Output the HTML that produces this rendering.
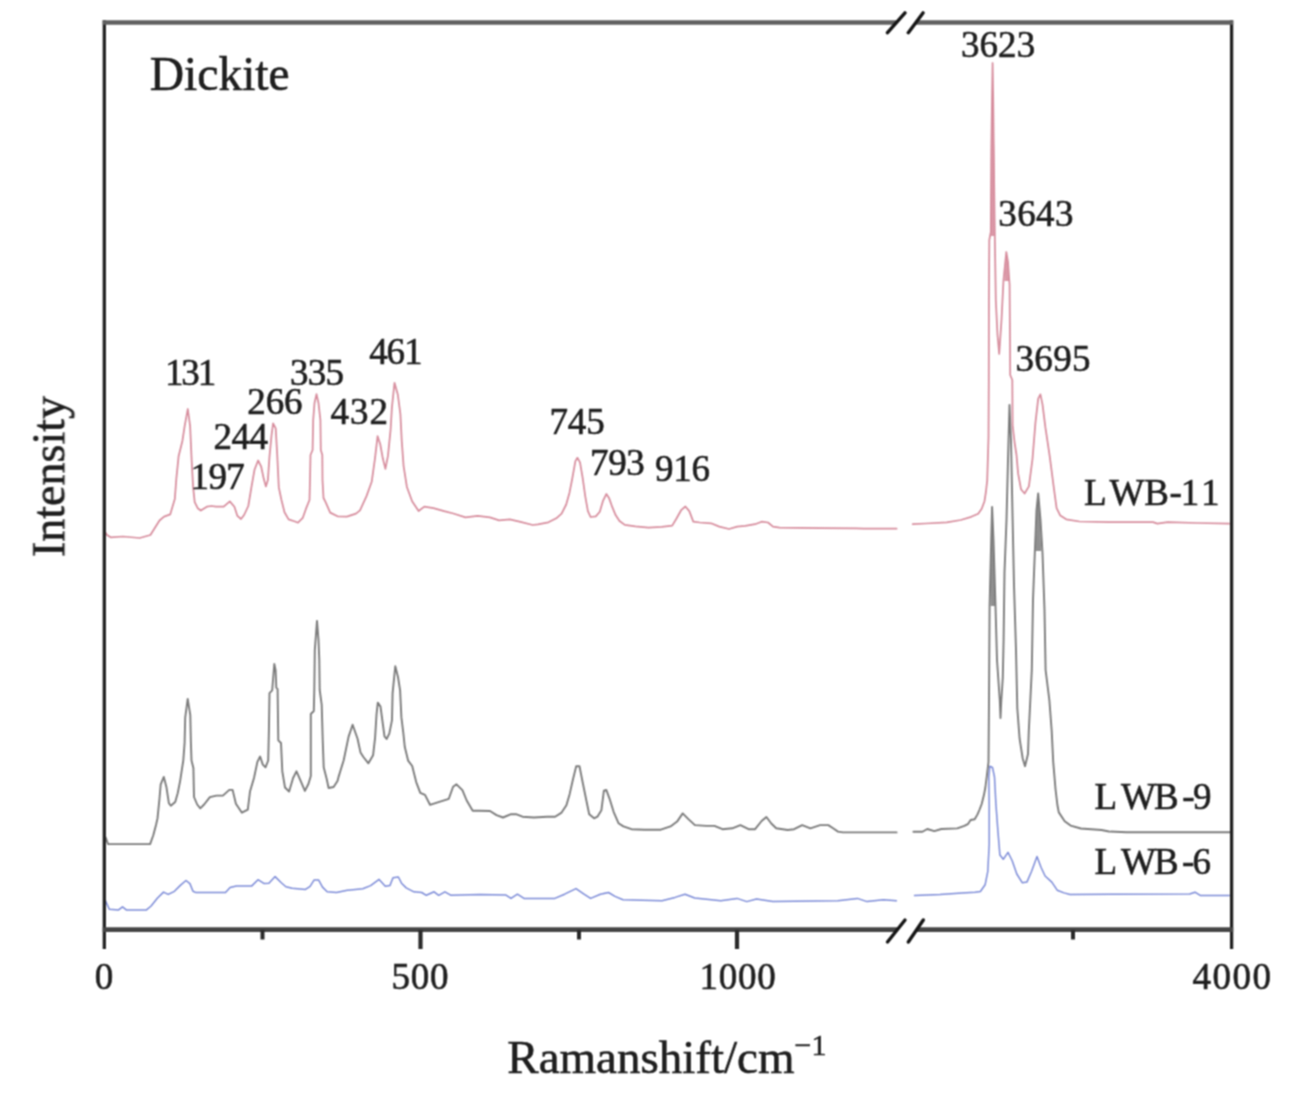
<!DOCTYPE html>
<html><head><meta charset="utf-8"><style>
html,body{margin:0;padding:0;background:#fff;overflow:hidden;}
svg{display:block;}
text{font-family:"Liberation Serif",serif;fill:#1e1e1e;stroke:#1e1e1e;stroke-width:0.6;font-kerning:none;}
</style></head><body>
<svg width="1291" height="1113" viewBox="0 0 1291 1113">
<defs><filter id="bl" x="-0.01" y="-0.01" width="1.02" height="1.02" color-interpolation-filters="sRGB"><feConvolveMatrix order="3" kernelMatrix="1 2 1 2 4 2 1 2 1" divisor="16" edgeMode="none"/></filter></defs>
<rect width="1291" height="1113" fill="#fff"/>
<g filter="url(#bl)">
<g fill="none" stroke-linejoin="round" stroke-linecap="round">
<polygon points="991.4,540 990.6,606 995.3,606 993.6,540 992.1,510" fill="#7c7c7c" stroke="none" opacity="0.85"/>
<polygon points="1037,505 1035.6,551 1041.2,551 1039.6,505 1038.2,494" fill="#7c7c7c" stroke="none" opacity="0.85"/>
<polygon points="992,105 991,150 990.7,236 995.2,236 994.2,150 993.2,105" fill="#d78e9e" stroke="none" opacity="0.9"/>
<polygon points="1006.3,253 1004.3,281 1009.3,281 1007.6,258" fill="#d78e9e" stroke="none" opacity="0.9"/>
<polyline points="105.7,837.6 108.1,844.1 150.1,844.1 153.3,835.2 156.0,825.0 157.5,818.4 159.4,799.5 160.7,784.4 163.8,776.9 166.4,786.9 168.9,803.3 170.8,805.8 175.2,802.0 177.7,793.2 180.2,780.6 182.1,768.1 183.3,760.5 184.6,742.9 185.2,717.7 187.7,698.9 190.3,715.2 190.9,742.9 191.5,760.5 193.4,768.1 194.0,797.0 197.2,804.5 200.3,808.3 204.1,804.5 209.1,798.2 209.9,797.2 216.4,795.6 222.9,795.6 229.3,789.9 232.6,789.9 235.9,803.8 241.9,812.7 247.8,809.7 250.0,791.5 254.0,778.0 257.4,761.9 260.1,756.5 262.8,764.6 265.5,767.3 268.2,760.5 268.9,730.9 269.5,693.1 272.2,690.4 274.3,664.0 275.6,670.2 276.3,687.7 277.6,689.1 278.3,740.3 281.0,743.0 282.3,771.3 285.0,787.5 289.1,791.5 293.1,778.0 296.5,771.3 300.0,779.4 304.9,790.9 308.4,784.0 310.8,776.0 310.8,714.0 313.8,711.0 314.3,690.0 314.8,650.0 317.0,620.9 318.5,640.0 319.3,660.0 319.7,690.0 321.7,704.8 322.7,739.5 323.7,767.2 326.7,779.0 328.6,788.0 333.6,787.0 337.5,781.0 338.8,776.1 343.7,760.3 348.6,736.6 352.6,724.7 357.5,738.5 360.5,752.4 363.4,757.0 368.4,763.3 373.1,755.2 375.1,737.6 376.5,714.7 377.8,702.6 380.5,706.6 382.5,721.5 384.5,736.3 386.6,739.0 389.3,733.6 392.0,720.1 392.6,693.1 395.3,666.2 398.0,677.0 400.1,690.4 401.4,717.4 403.4,733.6 404.8,747.1 408.1,760.6 412.2,766.0 416.2,782.1 420.3,792.9 425.0,794.9 430.0,804.8 438.5,802.2 448.8,798.8 453.1,786.8 456.5,784.3 462.4,790.2 466.7,800.5 472.7,810.7 479.5,810.7 490.0,811.0 496.5,815.1 503.0,817.5 511.1,814.2 516.0,814.2 522.5,816.7 533.9,817.5 546.9,816.7 555.1,816.7 561.6,812.6 566.4,805.3 569.7,793.9 573.0,779.3 576.2,766.3 579.5,766.3 582.7,782.5 586.0,798.8 589.2,814.2 594.1,818.3 597.4,816.7 601.4,810.2 603.9,790.7 606.3,789.9 609.6,798.8 613.6,811.8 618.5,823.2 623.4,826.4 631.5,829.2 644.5,829.7 660.8,829.7 670.5,826.4 677.1,821.6 682.7,813.4 688.4,819.1 694.9,825.1 706.3,825.9 714.4,825.9 722.5,829.2 732.3,828.3 740.4,825.1 748.6,829.2 755.1,829.2 761.6,821.0 766.4,817.0 771.3,823.5 776.2,828.3 787.6,830.0 794.1,829.2 802.2,825.1 810.4,828.3 820.1,825.1 828.3,825.1 833.1,828.3 838.0,831.6 842.9,832.4 896.6,832.4" stroke="#7c7c7c" stroke-width="1.9"/>
<polyline points="913.4,831.8 922.4,831.8 927.3,829.0 934.3,831.1 941.3,829.0 957.3,828.4 964.3,825.9 967.8,824.2 970.6,820.0 974.7,819.3 977.5,814.4 979.6,809.5 981.7,804.0 983.8,795.6 985.3,788.0 986.8,776.0 988.5,762.0 989.0,700.0 989.6,606.0 991.2,540.0 992.1,507.0 993.5,540.0 995.5,606.0 997.0,660.0 999.8,700.5 1000.5,718.0 1001.3,700.5 1002.8,677.6 1003.6,640.0 1004.5,572.0 1006.5,520.0 1008.0,460.0 1009.5,405.0 1011.0,440.0 1012.0,490.0 1014.0,585.0 1016.0,650.0 1017.3,708.2 1019.6,738.7 1022.7,758.5 1025.0,766.2 1028.0,754.0 1028.8,731.0 1030.3,700.5 1031.8,670.0 1033.0,600.0 1034.8,553.0 1036.5,510.0 1038.2,493.4 1040.5,520.0 1042.5,553.0 1044.5,610.0 1045.6,670.0 1049.4,700.5 1051.7,731.0 1053.2,761.6 1055.5,789.0 1057.4,805.0 1058.8,812.4 1064.7,821.2 1070.6,825.6 1080.9,828.5 1101.5,830.0 1108.9,831.5 1126.5,832.2 1229.5,832.2" stroke="#7c7c7c" stroke-width="1.9"/>
<polyline points="104.6,899.6 105.4,900.6 109.3,909.2 118.6,909.9 122.5,906.8 126.3,909.9 146.5,909.9 151.1,906.0 157.3,898.3 163.5,892.1 168.2,894.4 174.4,891.3 180.6,885.1 186.0,880.5 189.9,883.6 193.0,891.3 196.0,892.6 225.5,892.6 230.1,887.5 236.3,885.9 251.8,885.9 258.0,879.7 264.2,883.6 268.9,883.3 275.1,876.6 281.3,882.8 285.9,886.7 292.1,888.2 305.5,889.4 310.1,886.3 314.0,880.1 318.7,880.1 322.5,887.1 327.2,891.8 336.5,892.5 347.3,890.2 362.8,888.7 370.6,885.6 379.1,879.4 385.3,886.3 389.9,885.6 393.0,877.8 398.4,877.0 401.5,883.2 406.2,887.9 413.9,891.8 421.7,892.5 426.3,895.3 434.1,891.8 438.7,895.3 444.9,891.8 451.1,895.3 480.0,894.5 506.0,895.1 511.0,898.4 517.4,894.2 524.0,898.4 554.8,898.4 564.6,894.2 576.0,888.6 584.0,894.2 590.6,898.4 600.4,894.2 608.5,892.5 615.0,896.4 623.0,899.7 662.0,900.7 675.0,897.4 685.0,894.2 694.7,898.0 720.7,900.7 737.0,898.4 746.8,901.6 756.5,899.0 772.8,901.6 837.8,900.7 857.4,898.4 867.0,901.6 883.4,899.7 896.4,900.7" stroke="#7d8cd8" stroke-width="1.5"/>
<polyline points="914.5,895.4 940.0,894.5 962.0,893.0 975.0,892.2 980.4,891.5 985.1,884.8 987.8,871.3 989.2,844.3 989.2,803.9 988.8,777.0 989.8,766.2 992.5,767.5 994.5,777.0 995.9,803.9 997.9,830.9 999.9,855.1 1003.3,859.2 1008.0,852.4 1012.1,860.5 1016.8,874.0 1022.2,882.7 1026.9,882.1 1031.6,871.3 1037.0,856.5 1041.0,867.3 1045.1,876.0 1051.8,882.1 1057.2,890.2 1064.0,892.9 1070.0,894.5 1189.7,894.0 1195.0,892.2 1200.2,895.4 1229.2,895.4" stroke="#7d8cd8" stroke-width="1.5"/>
<polyline points="104.5,531.0 107.0,535.0 110.7,537.3 122.9,536.5 139.7,538.0 150.4,535.0 159.5,520.5 164.1,516.6 170.2,514.4 174.8,499.0 176.3,479.2 178.6,456.3 182.4,441.0 184.7,425.8 187.8,409.0 190.1,425.8 191.6,459.4 193.1,486.9 194.7,502.1 197.7,508.2 200.8,510.5 206.9,506.7 211.5,506.0 216.0,506.7 223.7,506.7 229.8,501.4 234.4,506.7 237.4,515.9 241.0,519.0 244.1,515.0 248.3,506.0 251.4,487.4 254.5,469.8 258.1,460.5 261.2,466.7 263.8,479.1 265.9,486.4 267.9,480.1 269.5,456.4 271.5,435.7 273.1,423.3 275.7,428.4 277.2,454.3 278.8,487.4 281.4,499.8 284.5,512.2 288.6,519.4 295.0,521.5 298.0,522.7 302.8,517.8 306.0,508.7 309.5,500.0 310.0,480.0 310.5,455.0 312.6,450.0 313.2,420.0 314.5,403.0 316.5,394.1 318.5,403.0 320.4,420.0 320.8,450.0 322.3,455.0 322.5,480.0 323.5,498.0 325.6,502.2 330.2,512.6 338.0,516.5 346.9,516.6 356.0,513.6 360.0,510.4 366.5,496.1 371.7,481.8 375.0,458.3 377.6,436.2 380.2,444.0 382.8,458.3 385.4,468.8 388.0,455.7 390.6,429.7 391.9,407.6 394.5,382.8 397.8,394.5 400.4,414.1 401.7,440.1 403.6,466.1 406.9,487.0 412.1,501.3 418.6,511.0 424.3,506.6 433.4,508.2 444.1,511.2 453.3,513.5 465.5,517.3 477.7,515.8 489.9,517.3 499.1,520.4 509.8,519.3 520.5,521.9 532.7,525.0 537.9,524.3 548.4,522.3 556.3,518.3 561.6,513.7 566.2,504.5 569.5,492.7 572.1,479.5 575.4,461.1 577.4,457.8 580.0,462.4 582.7,478.2 585.3,496.6 587.9,511.1 590.6,517.0 595.8,516.4 599.8,511.8 603.1,500.6 606.4,494.0 609.0,497.9 612.3,507.2 615.6,515.1 619.5,521.0 624.8,524.9 635.3,526.3 648.5,527.6 661.7,526.9 672.2,525.6 676.2,519.0 681.4,509.8 685.4,506.5 689.3,511.1 693.3,521.6 699.8,522.5 711.1,523.3 719.3,526.6 729.0,529.0 737.2,526.6 745.3,525.8 755.1,524.2 761.6,521.7 768.0,522.5 773.0,526.6 779.5,527.7 820.1,528.2 864.0,528.5 896.6,528.7" stroke="#d78e9e" stroke-width="1.75"/>
<polyline points="912.7,524.2 925.9,523.5 946.8,522.4 960.8,520.0 971.2,516.8 978.2,513.7 981.7,508.8 984.5,501.2 985.9,492.0 987.2,480.6 988.5,437.5 988.8,380.0 988.9,300.0 989.3,240.0 990.8,232.0 991.3,150.0 992.0,100.0 992.6,63.0 993.2,100.0 994.0,170.0 994.8,236.0 995.8,300.0 997.5,335.0 999.2,354.0 1001.5,320.0 1003.5,280.0 1006.3,252.0 1008.0,262.0 1009.6,285.0 1010.0,340.0 1010.2,375.0 1012.3,380.0 1012.6,425.0 1014.5,442.0 1016.5,455.0 1018.1,473.4 1021.0,489.2 1024.6,493.5 1028.9,486.4 1032.5,459.0 1035.4,423.1 1038.2,398.7 1040.4,394.4 1042.5,404.4 1045.4,427.4 1049.7,456.2 1054.0,489.2 1056.6,508.2 1060.3,515.6 1066.2,519.3 1079.4,521.5 1108.9,522.2 1153.0,522.2 1157.4,523.7 1167.7,522.2 1197.2,523.0 1229.0,523.7" stroke="#d78e9e" stroke-width="1.75"/>
</g>
<g stroke-linecap="butt">
<line x1="104.3" y1="20.3" x2="104.3" y2="949" stroke="#222" stroke-width="3.3"/>
<line x1="1231.6" y1="20.3" x2="1231.6" y2="949" stroke="#222" stroke-width="3.3"/>
<line x1="102.7" y1="22.5" x2="896.4" y2="22.5" stroke="#606060" stroke-width="4.4"/>
<line x1="915.8" y1="22.5" x2="1233.2" y2="22.5" stroke="#606060" stroke-width="4.4"/>
<line x1="102.7" y1="929.6" x2="897.4" y2="929.6" stroke="#454545" stroke-width="4.8"/>
<line x1="916.8" y1="929.6" x2="1233.2" y2="929.6" stroke="#454545" stroke-width="4.8"/>
<line x1="420.5" y1="930" x2="420.5" y2="949" stroke="#2a2a2a" stroke-width="4.2"/>
<line x1="737" y1="930" x2="737" y2="949" stroke="#2a2a2a" stroke-width="4.2"/>
<line x1="262.5" y1="930" x2="262.5" y2="939.5" stroke="#2a2a2a" stroke-width="4"/>
<line x1="579" y1="930" x2="579" y2="939.5" stroke="#2a2a2a" stroke-width="4"/>
<line x1="1073" y1="930" x2="1073" y2="939.5" stroke="#2a2a2a" stroke-width="4"/>
</g>
<g stroke="#151515" stroke-width="3.4" stroke-linecap="round">
<line x1="887.5" y1="942" x2="905" y2="920"/>
<line x1="908.3" y1="942" x2="923.3" y2="920"/>
<line x1="887.5" y1="32.7" x2="905" y2="12.9"/>
<line x1="908.3" y1="32.7" x2="923" y2="12.9"/>
</g>
<text x="164.9" y="385.2" font-size="37" letter-spacing="-2.11">131</text>
<text x="190.6" y="489.4" font-size="37" letter-spacing="-0.69">197</text>
<text x="213.4" y="448.8" font-size="37" letter-spacing="-0.40">244</text>
<text x="247.3" y="414.4" font-size="37" letter-spacing="-0.14">266</text>
<text x="290.1" y="385.0" font-size="37" letter-spacing="-0.74">335</text>
<text x="330.5" y="423.7" font-size="37" letter-spacing="1.03">432</text>
<text x="369.2" y="363.7" font-size="37" letter-spacing="-1.13">461</text>
<text x="549.4" y="434.0" font-size="37" letter-spacing="-0.06">745</text>
<text x="590.1" y="475.3" font-size="37" letter-spacing="-0.41">793</text>
<text x="655.0" y="481.4" font-size="37" letter-spacing="-0.20">916</text>
<text x="960.9" y="57.2" font-size="37" letter-spacing="0.11">3623</text>
<text x="998.3" y="226.1" font-size="37" letter-spacing="0.41">3643</text>
<text x="1015.4" y="371.3" font-size="37" letter-spacing="0.41">3695</text>
<text x="391.6" y="988.7" font-size="37" letter-spacing="0.73">500</text>
<text x="699.4" y="988.9" font-size="37" letter-spacing="0.82">1000</text>
<text x="1192.4" y="988.9" font-size="37" letter-spacing="1.51">4000</text>
<text x="104" y="988.7" font-size="37" text-anchor="middle">0</text>
<text x="1083.9 1109.4 1144.3 1169.6 1180.7 1201.1" y="504.7" font-size="37">LWB-11</text>
<text x="1094.4 1120.9 1154.0 1182.3 1192.9" y="809.0" font-size="37">LWB-9</text>
<text x="1094.4 1120.9 1154.0 1181.9 1192.5" y="874.1" font-size="37">LWB-6</text>
<text x="149.8" y="90.2" font-size="47.5">Dickite</text>
<text transform="translate(64.3,557.0) rotate(-90)" font-size="46">Intensity</text>
<text x="507.3" y="1072.6" font-size="47">Ramanshift/cm<tspan dy="-17.9" font-size="30">−1</tspan></text>
</g>
</svg>
</body></html>
